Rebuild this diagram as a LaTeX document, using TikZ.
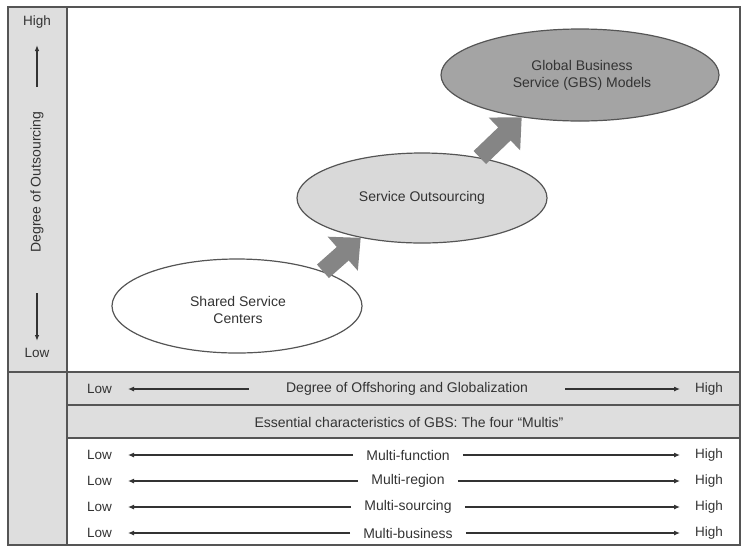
\documentclass[tikz,border=0pt]{standalone}
\usepackage{fontspec}
\setmainfont{Liberation Sans}
\usetikzlibrary{arrows.meta,shapes.geometric}
\definecolor{ink}{HTML}{333333}
\definecolor{frame}{HTML}{555555}
\definecolor{panel}{HTML}{DEDEDE}
\definecolor{soft}{HTML}{D9D9D9}
\definecolor{dark}{HTML}{A4A4A4}
\definecolor{fat}{HTML}{858585}
\tikzset{
  lbl/.style={text=ink,font=\fontsize{14}{17}\selectfont,inner sep=0pt,align=center},
  lh/.style={text=ink,font=\fontsize{13.5}{16}\selectfont,inner sep=0pt},
  oval/.style={ellipse,draw=frame,line width=1.2pt,inner sep=0pt,text=ink,
    font=\fontsize{14}{17}\selectfont,align=center},
  fatarrow/.style={draw=fat,line width=18pt,
    -{Triangle[length=24pt,width=44pt,fill=fat]}},
  rowarrow/.style={draw=ink,line width=1.1pt,-{Latex[length=6pt,width=5pt]}},
  colarrow/.style={draw=ink,line width=1.1pt,-{Latex[length=6pt,width=4.5pt]}},
  rule/.style={draw=frame,line width=1.2pt}
}
\begin{document}
\begin{tikzpicture}[x=1pt,y=-1pt]
\useasboundingbox (0,0) rectangle (743,550);
% fills
\fill[panel] (8,7) rectangle (67,545);
\fill[panel] (67,372) rectangle (740,438);
% rules
\draw[rule] (8,7) rectangle (740,545);
\draw[rule] (8,372) -- (740,372);
\draw[rule] (67,405) -- (740,405);
\draw[rule] (67,438) -- (740,438);
\draw[draw=frame,line width=2pt] (67,7) -- (67,545);

% left column
\node[lh] (hiv) at (37,22) {High};
\node[lh] (lov) at (37,353) {Low};
\node[lbl,rotate=90] (dout) at (37,182) {Degree of Outsourcing};
\coordinate (upT) at (37,45);
\coordinate (upB) at (37,87);
\coordinate (dnT) at (37,293);
\coordinate (dnB) at (37,341);
\draw[colarrow] (upB) -- (upT);
\draw[colarrow] (dnT) -- (dnB);

% ellipses
\node[oval,fill=white,minimum width=250pt,minimum height=94pt] (ssc) at (237,306) {};
\node[lbl] (ssct) at (238,310) {Shared Service\\Centers};
\node[oval,fill=soft,minimum width=250pt,minimum height=90pt] (so) at (422,198) {Service Outsourcing};
\node[oval,fill=dark,minimum width=278pt,minimum height=92pt] (gbs) at (580,75) {};
\node[lbl] (gbst) at (582,75) {Global Business\\Service (GBS) Models};

% fat arrows
\draw[fatarrow] (ssc.22) -- (so.213);
\draw[fatarrow] (so.35) -- (gbs.216);

% row 1
\node[lh,anchor=east] (l0) at (112,389) {Low};
\node[lh,anchor=west] (h0) at (695,389) {High};
\node[lbl,inner xsep=37pt] (m0) at (407,389) {Degree of Offshoring and Globalization};
\draw[rowarrow,shorten >=16pt] (m0.west) -- (l0.east);
\draw[rowarrow,shorten >=15pt] (m0.east) -- (h0.west);

% row 2
\node[lbl] (ess) at (409,422) {Essential characteristics of GBS: The four “Multis”};

% multi rows
\foreach \n/\y/\t in {1/455/Multi-function,2/481/Multi-region,3/507/Multi-sourcing,4/533/Multi-business}{
  \node[lh,anchor=east] (l\n) at (112,\y) {Low};
  \node[lh,anchor=west] (h\n) at (695,\y) {High};
  \node[lbl,inner xsep=13pt] (m\n) at (408,\y) {\t};
  \draw[rowarrow,shorten >=16pt] (m\n.west) -- (l\n.east);
  \draw[rowarrow,shorten >=15pt] (m\n.east) -- (h\n.west);
}
\end{tikzpicture}
\end{document}
